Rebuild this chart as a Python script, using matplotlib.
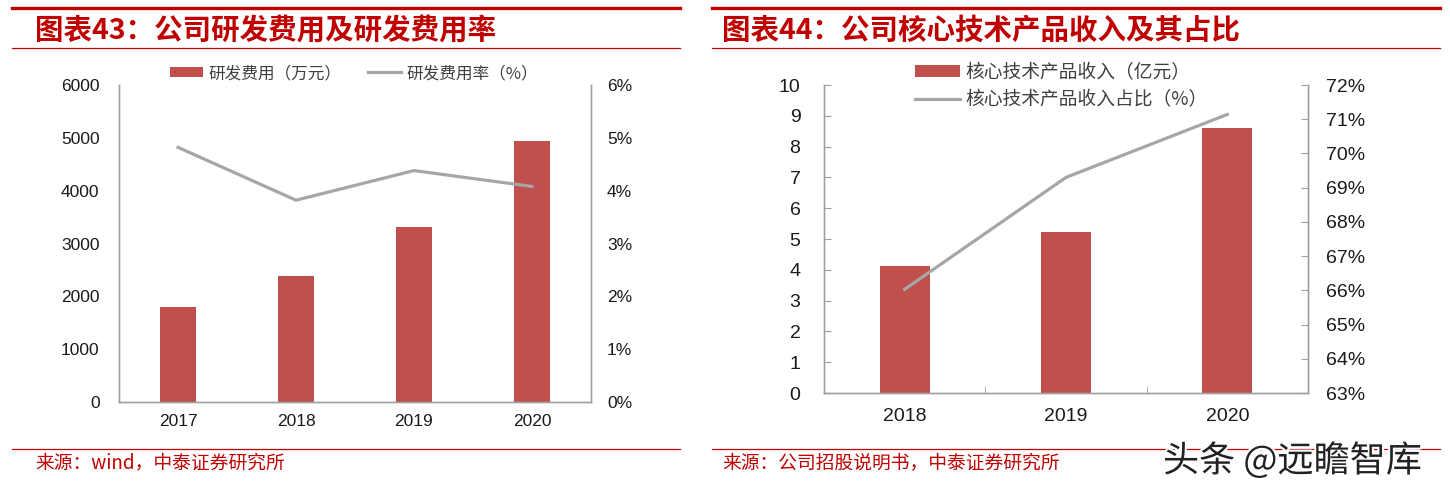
import matplotlib
matplotlib.use('Agg')
import matplotlib.pyplot as plt
import matplotlib.patheffects as pe
from matplotlib.lines import Line2D
from matplotlib.ticker import FuncFormatter
import numpy as np

plt.rcParams['font.family'] = ['Liberation Sans', 'Noto Sans CJK SC', 'DejaVu Sans']
CJK = ['Noto Sans CJK SC', 'DejaVu Sans']

# chart 43 data
years1 = ['2017', '2018', '2019', '2020']
rd_cost = [1800, 2383, 3308, 4943]          # 万元
rd_rate = [4.82, 3.82, 4.38, 4.08]          # %

# chart 44 data
years2 = ['2018', '2019', '2020']
core_rev = [4.13, 5.24, 8.59]               # 亿元
core_share = [66.03, 69.30, 71.14]          # %

title1 = '图表43：公司研发费用及研发费用率'
title2 = '图表44：公司核心技术产品收入及其占比'
src1 = '来源：wind，中泰证券研究所'
src2 = '来源：公司招股说明书，中泰证券研究所'

BAR = '#C0504D'
LINE = '#A6A6A6'
RED = '#C00000'
SPINE = '#A0A0A0'

W, H = 1450, 490
fig = plt.figure(figsize=(W / 100, H / 100), dpi=100)

def fx(px):
    return px / W

def fy(py):
    return 1 - py / H

# header / footer decorations
for x0, x1, tx, title, src in [(12, 680, 35, title1, src1), (712, 1440, 722, title2, src2)]:
    fig.add_artist(Line2D([fx(x0), fx(x1)], [fy(8.5), fy(8.5)], color=RED, lw=2.4))
    fig.add_artist(Line2D([fx(x0), fx(x1)], [fy(48), fy(48)], color=RED, lw=0.9))
    fig.add_artist(Line2D([fx(x0), fx(x1)], [fy(449), fy(449)], color=RED, lw=0.9))
    fig.text(fx(tx), fy(31), title, color=RED, fontsize=20.5,
             fontweight='bold', family=CJK, va='center', ha='left')
    fig.text(fx(tx), fy(463), src, color=RED, fontsize=13.5,
             family=CJK, va='center', ha='left')

fig.text(fx(1163), fy(461), '头条 @远瞻智库', fontsize=26, color='#222222', family=CJK,
         va='center', ha='left',
         path_effects=[pe.withStroke(linewidth=3, foreground='white')])

def style_axes(ax, ax2, size):
    for a in (ax, ax2):
        a.spines['top'].set_visible(False)
        for s in ('left', 'right', 'bottom'):
            a.spines[s].set_color(SPINE)
            a.spines[s].set_linewidth(1.0)
        a.tick_params(labelsize=size, labelcolor='#1a1a1a', color=SPINE)

# ---- chart 43 ----
ax1 = fig.add_axes([fx(119), fy(402), fx(591 - 119), fy(85) - fy(402)])
x1 = np.arange(len(years1))
ax1.bar(x1, rd_cost, width=0.31, color=BAR, label='研发费用（万元）', zorder=2)
ax1.set_xlim(-0.5, len(years1) - 0.5)
ax1.set_ylim(0, 6000)
ax1.set_yticks(range(0, 6001, 1000))
ax1.set_xticks(x1, years1)
ax1b = ax1.twinx()
ax1b.plot(x1, rd_rate, color=LINE, lw=2.3, label='研发费用率（%）', zorder=3)
ax1b.set_ylim(0, 6)
ax1b.set_yticks(range(0, 7))
ax1b.yaxis.set_major_formatter(FuncFormatter(lambda v, p: f'{v:.0f}%'))
style_axes(ax1, ax1b, 12.5)
ax1.tick_params(length=0)
ax1.tick_params(axis='x', pad=9)
ax1.tick_params(axis='y', pad=14)
ax1b.tick_params(length=0, pad=11.5)
h1, l1 = ax1.get_legend_handles_labels()
h2, l2 = ax1b.get_legend_handles_labels()
ax1.legend(h1 + h2, l1 + l2, ncol=2, loc='lower left', bbox_to_anchor=(fx(170), fy(82)),
           bbox_transform=fig.transFigure, frameon=False, handlelength=2.0, handleheight=0.6,
           columnspacing=1.6, handletextpad=0.3, borderaxespad=0, borderpad=0,
           prop={'family': CJK, 'size': 12}, labelcolor='#404040')

# ---- chart 44 ----
ax2 = fig.add_axes([fx(824), fy(393), fx(1308 - 824), fy(85) - fy(393)])
x2 = np.arange(len(years2))
ax2.bar(x2, core_rev, width=0.31, color=BAR, label='核心技术产品收入（亿元）', zorder=2)
ax2.set_xlim(-0.5, len(years2) - 0.5)
ax2.set_ylim(0, 10)
ax2.set_yticks(range(0, 11))
ax2.set_xticks(x2, years2)
ax2.set_xticks(x2[:-1] + 0.5, minor=True)
ax2b = ax2.twinx()
ax2b.plot(x2, core_share, color=LINE, lw=2.3, label='核心技术产品收入占比（%）', zorder=3)
ax2b.set_ylim(63, 72)
ax2b.set_yticks(range(63, 73))
ax2b.yaxis.set_major_formatter(FuncFormatter(lambda v, p: f'{v:.0f}%'))
style_axes(ax2, ax2b, 14)
ax2.tick_params(axis='y', direction='in', length=5, pad=17)
ax2.tick_params(axis='x', which='major', length=0, pad=11)
ax2.tick_params(axis='x', which='minor', direction='in', length=5, color=SPINE)
ax2b.tick_params(axis='y', direction='in', length=5, pad=13)
h1, l1 = ax2.get_legend_handles_labels()
h2, l2 = ax2b.get_legend_handles_labels()
ax2.legend(h1 + h2, l1 + l2, ncol=1, loc='upper left', bbox_to_anchor=(fx(915), fy(62)),
           bbox_transform=fig.transFigure, frameon=False, handlelength=2.4, handleheight=0.6,
           handletextpad=0.3, labelspacing=0.35, borderaxespad=0, borderpad=0,
           prop={'family': CJK, 'size': 13.5}, labelcolor='#404040')

fig.savefig('out.png', dpi=100)
